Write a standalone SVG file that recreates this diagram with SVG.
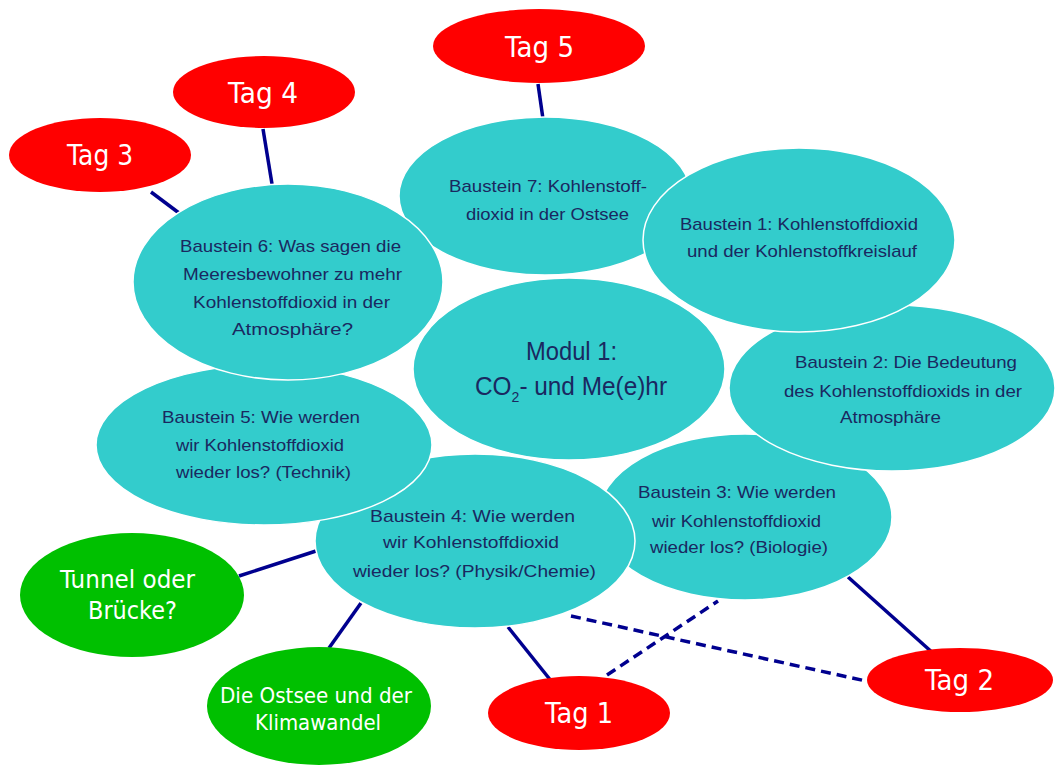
<svg xmlns="http://www.w3.org/2000/svg" width="1059" height="765" viewBox="0 0 1059 765">
<style>
.c{fill:#33CCCC;stroke:#ffffff;stroke-width:1.5}
.r{fill:#FF0000;stroke:none}
.g{fill:#00C000;stroke:none}
.t{font-family:"Liberation Sans",Arial,sans-serif;font-size:17px;fill:#1A2860}
.m{font-family:"Liberation Sans",Arial,sans-serif;font-size:26px;fill:#1A2860}
.w{font-family:"DejaVu Sans","Liberation Sans",sans-serif;fill:#ffffff}
.ln{stroke:#00008F;stroke-width:3.5;fill:none}
.dl{stroke:#00008F;stroke-width:3.5;fill:none;stroke-dasharray:10 6}
</style>
<rect width="1059" height="765" fill="#ffffff"/>
<g id="connectors">
<line class="ln" x1="538" y1="84" x2="543" y2="119"/>
<line class="ln" x1="263" y1="129" x2="272" y2="184"/>
<line class="ln" x1="151" y1="192" x2="179" y2="213"/>
<line class="ln" x1="239" y1="576" x2="316" y2="551"/>
<line class="ln" x1="329" y1="648" x2="361" y2="603"/>
<line class="ln" x1="508" y1="627" x2="552" y2="682"/>
<line class="ln" x1="848" y1="577" x2="934" y2="654"/>
<line class="dl" x1="571" y1="616" x2="866" y2="681"/>
<line class="dl" x1="607" y1="675" x2="718" y2="601"/>
</g>
<g id="tag5"><ellipse class="r" cx="539" cy="46" rx="106" ry="37"/><text class="w" x="505" y="57" font-size="28" textLength="69" lengthAdjust="spacingAndGlyphs">Tag 5</text></g>
<g id="tag4"><ellipse class="r" cx="264" cy="92" rx="91" ry="36"/><text class="w" x="228" y="103" font-size="28" textLength="70" lengthAdjust="spacingAndGlyphs">Tag 4</text></g>
<g id="tag3"><ellipse class="r" cx="100" cy="155" rx="91" ry="37"/><text class="w" x="67" y="165" font-size="28" textLength="66" lengthAdjust="spacingAndGlyphs">Tag 3</text></g>
<g id="tag1"><ellipse class="r" cx="579" cy="713" rx="91" ry="37"/><text class="w" x="545" y="723" font-size="28" textLength="68" lengthAdjust="spacingAndGlyphs">Tag 1</text></g>
<g id="tag2"><ellipse class="r" cx="960" cy="680" rx="93" ry="32"/><text class="w" x="925" y="690" font-size="28" textLength="69" lengthAdjust="spacingAndGlyphs">Tag 2</text></g>
<g id="tunnel"><ellipse class="g" cx="132" cy="595" rx="112" ry="62"/><text class="w" font-size="25"><tspan x="60" y="588" textLength="135" lengthAdjust="spacingAndGlyphs">Tunnel oder</tspan><tspan x="88" y="619" textLength="89" lengthAdjust="spacingAndGlyphs">Brücke?</tspan></text></g>
<g id="ostsee"><ellipse class="g" cx="319" cy="706" rx="112" ry="59"/><text class="w" font-size="21"><tspan x="220" y="703" textLength="192" lengthAdjust="spacingAndGlyphs">Die Ostsee und der</tspan><tspan x="255" y="730" textLength="126" lengthAdjust="spacingAndGlyphs">Klimawandel</tspan></text></g>
<g id="baustein3"><ellipse class="c" cx="745" cy="517" rx="147" ry="83"/><text class="t"><tspan x="638" y="498" textLength="198" lengthAdjust="spacingAndGlyphs">Baustein 3: Wie werden</tspan><tspan x="652" y="527" textLength="169" lengthAdjust="spacingAndGlyphs">wir Kohlenstoffdioxid</tspan><tspan x="650" y="553" textLength="178" lengthAdjust="spacingAndGlyphs">wieder los? (Biologie)</tspan></text></g>
<g id="baustein4"><ellipse class="c" cx="475" cy="541" rx="160" ry="87"/><text class="t"><tspan x="370" y="522" textLength="205" lengthAdjust="spacingAndGlyphs">Baustein 4: Wie werden</tspan><tspan x="383" y="548" textLength="176" lengthAdjust="spacingAndGlyphs">wir Kohlenstoffdioxid</tspan><tspan x="353" y="577" textLength="243" lengthAdjust="spacingAndGlyphs">wieder los? (Physik/Chemie)</tspan></text></g>
<g id="baustein5"><ellipse class="c" cx="264" cy="445" rx="168" ry="80"/><text class="t"><tspan x="162" y="423" textLength="198" lengthAdjust="spacingAndGlyphs">Baustein 5: Wie werden</tspan><tspan x="176" y="451" textLength="168" lengthAdjust="spacingAndGlyphs">wir Kohlenstoffdioxid</tspan><tspan x="176" y="478" textLength="175" lengthAdjust="spacingAndGlyphs">wieder los? (Technik)</tspan></text></g>
<g id="baustein7"><ellipse class="c" cx="545" cy="196" rx="146" ry="79"/><text class="t"><tspan x="449" y="192" textLength="198" lengthAdjust="spacingAndGlyphs">Baustein 7: Kohlenstoff-</tspan><tspan x="466" y="220" textLength="163" lengthAdjust="spacingAndGlyphs">dioxid in der Ostsee</tspan></text></g>
<g id="baustein6"><ellipse class="c" cx="288" cy="282" rx="155" ry="98"/><text class="t"><tspan x="180" y="252" textLength="221" lengthAdjust="spacingAndGlyphs">Baustein 6: Was sagen die</tspan><tspan x="183" y="280" textLength="219" lengthAdjust="spacingAndGlyphs">Meeresbewohner zu mehr</tspan><tspan x="193" y="308" textLength="197" lengthAdjust="spacingAndGlyphs">Kohlenstoffdioxid in der</tspan><tspan x="232" y="335" textLength="121" lengthAdjust="spacingAndGlyphs">Atmosphäre?</tspan></text></g>
<g id="baustein2"><ellipse class="c" cx="892" cy="388" rx="163" ry="83"/><text class="t"><tspan x="795" y="368" textLength="222" lengthAdjust="spacingAndGlyphs">Baustein 2: Die Bedeutung</tspan><tspan x="784" y="397" textLength="238" lengthAdjust="spacingAndGlyphs">des Kohlenstoffdioxids in der</tspan><tspan x="840" y="423" textLength="101" lengthAdjust="spacingAndGlyphs">Atmosphäre</tspan></text></g>
<g id="baustein1"><ellipse class="c" cx="799" cy="240" rx="156" ry="92"/><text class="t"><tspan x="680" y="230" textLength="238" lengthAdjust="spacingAndGlyphs">Baustein 1: Kohlenstoffdioxid</tspan><tspan x="687" y="257" textLength="230" lengthAdjust="spacingAndGlyphs">und der Kohlenstoffkreislauf</tspan></text></g>
<g id="modul1"><ellipse class="c" cx="569" cy="369" rx="156" ry="91"/><text class="m"><tspan x="526" y="360" textLength="91" lengthAdjust="spacingAndGlyphs">Modul 1:</tspan></text><text class="m" x="475" y="395" textLength="192" lengthAdjust="spacingAndGlyphs">CO<tspan dy="7" style="font-size:15px">2</tspan><tspan dy="-7">- und Me(e)hr</tspan></text></g>
</svg>
